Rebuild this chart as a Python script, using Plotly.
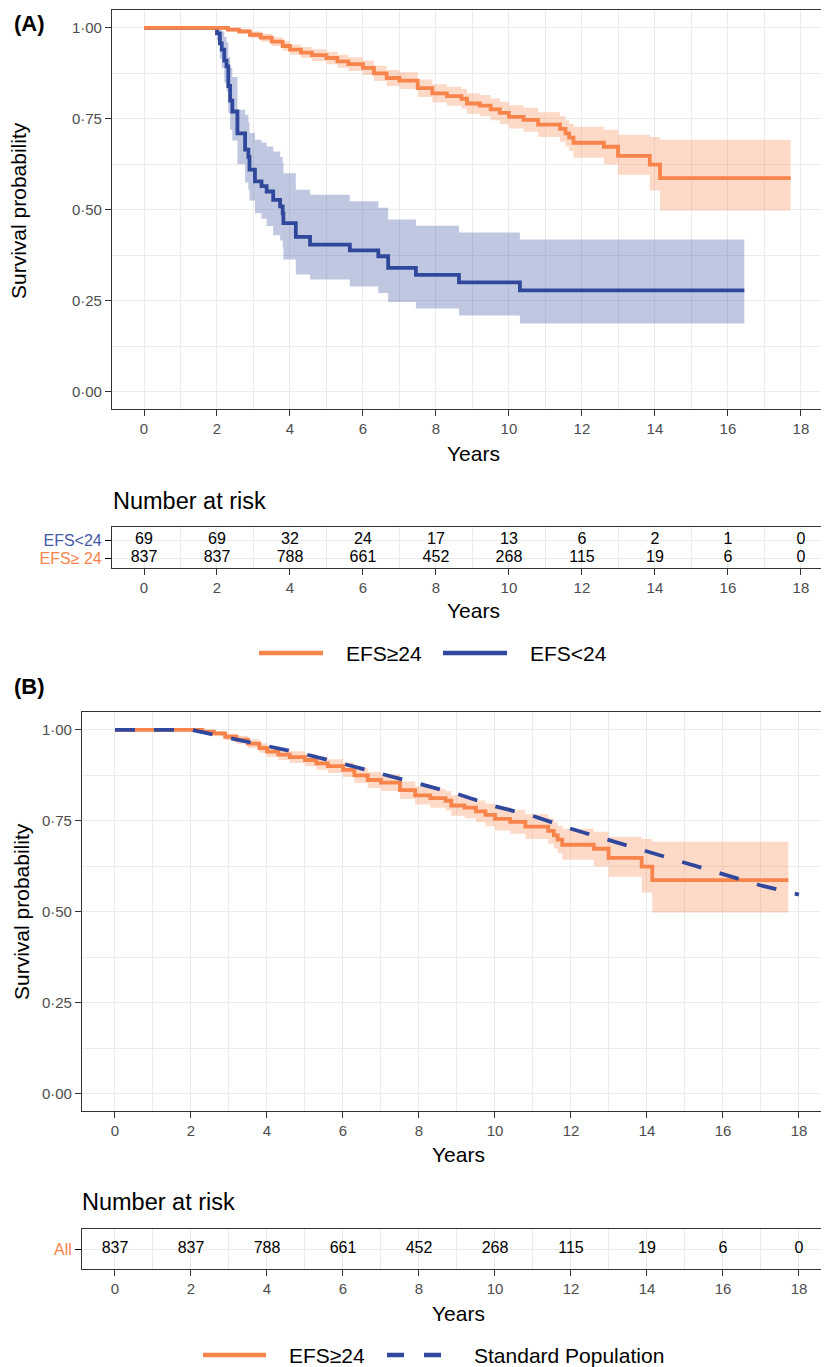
import plotly.graph_objects as go

W, H = 829, 1367
OX, OY = 8, 8  # default page body margin of the html page
FONT = "Liberation Sans, Arial, sans-serif"
ORANGE = "#F7844A"
BLUE = "#30489C"
ORANGE_FILL = "rgba(247,132,74,0.30)"
BLUE_FILL = "rgba(48,72,156,0.30)"

# ---------------- data ----------------
# EFS>=24 Kaplan-Meier estimate (time in years, survival, lower CI, upper CI)
ge24_t = [0, 2.0, 2.3, 2.6, 2.9, 3.2, 3.5, 3.8, 4.0, 4.3, 4.6, 5.0, 5.3, 5.6, 6.0, 6.3, 6.65,
          7.0, 7.5, 7.9, 8.3, 8.7, 8.85, 9.2, 9.5, 9.75, 10.0, 10.4, 10.8, 11.4, 11.55, 11.65,
          11.77, 12.6, 12.99, 13.86, 14.14, 17.72]
ge24_s = [1.0, 1.0, 0.995, 0.99, 0.981, 0.973, 0.962, 0.95, 0.94, 0.932, 0.925, 0.917, 0.908, 0.9,
          0.89, 0.875, 0.862, 0.855, 0.834, 0.82, 0.812, 0.805, 0.792, 0.786, 0.776, 0.766, 0.755,
          0.747, 0.734, 0.722, 0.71, 0.698, 0.684, 0.673, 0.648, 0.624, 0.587, 0.587]
ge24_lo = [1.0, 1.0, 0.99, 0.983, 0.972, 0.962, 0.95, 0.937, 0.926, 0.917, 0.909, 0.9, 0.89, 0.881,
           0.87, 0.854, 0.84, 0.832, 0.81, 0.795, 0.786, 0.778, 0.764, 0.757, 0.746, 0.735, 0.723,
           0.714, 0.70, 0.687, 0.674, 0.661, 0.643, 0.624, 0.596, 0.553, 0.498, 0.498]
ge24_hi = [1.0, 1.0, 1.0, 0.997, 0.99, 0.984, 0.974, 0.963, 0.954, 0.947, 0.941, 0.934, 0.926, 0.919,
           0.91, 0.896, 0.884, 0.878, 0.858, 0.845, 0.838, 0.832, 0.82, 0.815, 0.806, 0.797, 0.787,
           0.78, 0.768, 0.757, 0.746, 0.736, 0.728, 0.72, 0.706, 0.70, 0.692, 0.692]

# EFS<24 Kaplan-Meier estimate
lt24_t = [0, 2.0, 2.08, 2.13, 2.2, 2.26, 2.31, 2.36, 2.42, 2.56, 2.77, 2.86, 2.89, 3.04, 3.22, 3.36,
          3.54, 3.73, 3.80, 3.82, 4.16, 4.55, 5.64, 6.42, 6.69, 7.45, 8.63, 10.3, 16.45]
lt24_s = [1.0, 0.985, 0.957, 0.94, 0.91, 0.894, 0.84, 0.80, 0.77, 0.71, 0.665, 0.645, 0.61, 0.578,
          0.565, 0.55, 0.527, 0.509, 0.49, 0.463, 0.425, 0.404, 0.388, 0.372, 0.34, 0.321, 0.30,
          0.278, 0.278]
lt24_lo = [1.0, 0.965, 0.915, 0.89, 0.85, 0.825, 0.765, 0.72, 0.69, 0.625, 0.575, 0.555, 0.525, 0.49,
           0.475, 0.455, 0.43, 0.415, 0.395, 0.363, 0.322, 0.308, 0.289, 0.271, 0.246, 0.228, 0.209,
           0.187, 0.187]
lt24_hi = [1.0, 1.0, 1.0, 0.99, 0.975, 0.96, 0.92, 0.89, 0.865, 0.775, 0.761, 0.74, 0.711, 0.692,
           0.685, 0.674, 0.66, 0.645, 0.63, 0.60, 0.555, 0.541, 0.523, 0.505, 0.473, 0.456, 0.437,
           0.418, 0.418]

# Standard population expected survival
pop_t = [0, 2, 3, 4, 5, 6, 7, 8, 9, 10, 11, 12, 13, 14, 15, 16, 17, 18]
pop_s = [1.0, 1.0, 0.978, 0.955, 0.933, 0.907, 0.88, 0.851, 0.824, 0.79, 0.763, 0.728, 0.697,
         0.667, 0.636, 0.603, 0.572, 0.547]

# Numbers at risk
risk_times = [0, 2, 4, 6, 8, 10, 12, 14, 16, 18]
risk_lt24 = [69, 69, 32, 24, 17, 13, 6, 2, 1, 0]
risk_ge24 = [837, 837, 788, 661, 452, 268, 115, 19, 6, 0]
risk_all = [837, 837, 788, 661, 452, 268, 115, 19, 6, 0]

x_ticks = [0, 2, 4, 6, 8, 10, 12, 14, 16, 18]
y_ticks = [0, 0.25, 0.5, 0.75, 1.0]
y_ticklabels = ["0·00", "0·25", "0·50", "0·75", "1·00"]

legend_a = ["EFS≥24", "EFS<24"]
legend_b = ["EFS≥24", "Standard Population"]

FW, FH = W - OX, H - OY


def px(x):
    return (x - OX) / FW


def py(y):
    return 1 - (y - OY) / FH


fig = go.Figure()


def add_band(t, lo, hi, fill, xa, ya):
    fig.add_trace(go.Scatter(x=t, y=lo, mode="lines", line=dict(width=0, shape="hv"),
                             hoverinfo="skip", showlegend=False, xaxis=xa, yaxis=ya))
    fig.add_trace(go.Scatter(x=t, y=hi, mode="lines", line=dict(width=0, shape="hv"),
                             fill="tonexty", fillcolor=fill, hoverinfo="skip",
                             showlegend=False, xaxis=xa, yaxis=ya))


# Panel A
add_band(lt24_t, lt24_lo, lt24_hi, BLUE_FILL, "x", "y")
add_band(ge24_t, ge24_lo, ge24_hi, ORANGE_FILL, "x", "y")
fig.add_trace(go.Scatter(x=lt24_t, y=lt24_s, mode="lines", name="EFS<24",
                         line=dict(color=BLUE, width=3.8, shape="hv"), showlegend=False,
                         xaxis="x", yaxis="y"))
fig.add_trace(go.Scatter(x=ge24_t, y=ge24_s, mode="lines", name="EFS≥24",
                         line=dict(color=ORANGE, width=3.8, shape="hv"), showlegend=False,
                         xaxis="x", yaxis="y"))

# Risk table A
fig.add_trace(go.Scatter(x=risk_times, y=[2] * len(risk_times), mode="text",
                         text=[str(v) for v in risk_lt24], textfont=dict(size=16, color="black", family=FONT),
                         showlegend=False, hoverinfo="skip", xaxis="x2", yaxis="y2"))
fig.add_trace(go.Scatter(x=risk_times, y=[1] * len(risk_times), mode="text",
                         text=[str(v) for v in risk_ge24], textfont=dict(size=16, color="black", family=FONT),
                         showlegend=False, hoverinfo="skip", xaxis="x2", yaxis="y2"))

# Panel B
add_band(ge24_t, ge24_lo, ge24_hi, ORANGE_FILL, "x3", "y3")
fig.add_trace(go.Scatter(x=ge24_t, y=ge24_s, mode="lines", name="EFS≥24",
                         line=dict(color=ORANGE, width=3.8, shape="hv"), showlegend=False,
                         xaxis="x3", yaxis="y3"))
fig.add_trace(go.Scatter(x=pop_t, y=pop_s, mode="lines", name="Standard Population",
                         line=dict(color=BLUE, width=3.8, dash="20px,19px"),
                         showlegend=False, xaxis="x3", yaxis="y3"))

# Risk table B
fig.add_trace(go.Scatter(x=risk_times, y=[1] * len(risk_times), mode="text",
                         text=[str(v) for v in risk_all], textfont=dict(size=16, color="black", family=FONT),
                         showlegend=False, hoverinfo="skip", xaxis="x4", yaxis="y4"))

GRID = "#EBEBEB"
LINE = "#333333"


def xaxis_style(domain, rng, anchor):
    return dict(domain=domain, range=rng, anchor=anchor, tickmode="array", tickvals=x_ticks,
                ticks="outside", ticklen=6, tickwidth=1.1, tickcolor=LINE,
                tickfont=dict(size=15, color="#4D4D4D", family=FONT),
                showline=True, linecolor=LINE, linewidth=1.1, mirror=True,
                showgrid=True, gridcolor=GRID, gridwidth=1.2, zeroline=False,
                minor=dict(tickmode="linear", tick0=1, dtick=2, showgrid=True,
                           gridcolor=GRID, gridwidth=0.6, ticks=""))


def ymain_style(domain, anchor):
    return dict(domain=domain, range=[-0.048, 1.049], anchor=anchor, tickmode="array",
                tickvals=y_ticks, ticktext=y_ticklabels,
                ticks="outside", ticklen=6, tickwidth=1.1, tickcolor=LINE,
                tickfont=dict(size=15, color="#4D4D4D", family=FONT),
                showline=True, linecolor=LINE, linewidth=1.1, mirror=True,
                showgrid=True, gridcolor=GRID, gridwidth=1.2, zeroline=False,
                minor=dict(tickmode="linear", tick0=0.125, dtick=0.25, showgrid=True,
                           gridcolor=GRID, gridwidth=0.6, ticks=""))


def ytable_style(domain, anchor, rng, vals, labels):
    return dict(domain=domain, range=rng, anchor=anchor, tickmode="array",
                tickvals=vals, ticktext=labels,
                ticks="outside", ticklen=6, tickwidth=1.1, tickcolor="black",
                tickfont=dict(size=16, family=FONT),
                showline=True, linecolor=LINE, linewidth=1.1, mirror=True,
                showgrid=True, gridcolor=GRID, gridwidth=1.2, zeroline=False)


xA = [px(112), 1.0]
xB = [px(82), 1.0]
fig.update_layout(
    xaxis=xaxis_style(xA, [-0.877, 18.77], "y"),
    yaxis=ymain_style([py(409), py(10)], "x"),
    xaxis2=xaxis_style(xA, [-0.877, 18.77], "y2"),
    yaxis2=ytable_style([py(568.3), py(527.3)], "x2", [0.43, 2.71], [1, 2],
                        [f'<span style="color:{ORANGE}">EFS≥ 24</span>',
                         f'<span style="color:#4458A8">EFS&lt;24</span>']),
    xaxis3=xaxis_style(xB, [-0.868, 18.79], "y3"),
    yaxis3=ymain_style([py(1111), py(712)], "x3"),
    xaxis4=xaxis_style(xB, [-0.868, 18.79], "y4"),
    yaxis4=ytable_style([py(1269), py(1229)], "x4", [0.5, 1.5], [1],
                        [f'<span style="color:{ORANGE}">All</span>']),
)

ann = []


def text(x, y, s, size, xanchor="center", angle=0, bold=False):
    ann.append(dict(x=px(x), y=py(y), xref="paper", yref="paper", text=f"<b>{s}</b>" if bold else s,
                    showarrow=False, xanchor=xanchor, yanchor="middle", textangle=angle,
                    font=dict(size=size, color="black", family=FONT)))


text(12, 23, "(A)", 22, xanchor="left", bold=True)
text(12, 686, "(B)", 22, xanchor="left", bold=True)
text(19, 211, "Survival probability", 21, angle=-90)
text(21, 912, "Survival probability", 21, angle=-90)
text(473, 453, "Years", 21)
text(473, 610, "Years", 21)
text(458, 1154, "Years", 21)
text(458, 1313, "Years", 21)
text(111, 501, "Number at risk", 23.5, xanchor="left")
text(80, 1202, "Number at risk", 23.5, xanchor="left")

# legends (keys + labels)
shapes = []


def key(x0, x1, y, color, dash="solid"):
    shapes.append(dict(type="line", xref="paper", yref="paper", x0=px(x0), x1=px(x1), y0=py(y), y1=py(y),
                       line=dict(color=color, width=4.5, dash=dash)))


key(259, 323, 653, ORANGE)
text(344, 653, legend_a[0], 21, xanchor="left")
key(443, 507, 653, BLUE)
text(528, 653, legend_a[1], 21, xanchor="left")

key(203, 266, 1355, ORANGE)
text(287, 1355, legend_b[0], 21, xanchor="left")
key(387, 441, 1355, BLUE, dash="17px,20px")
text(472, 1355, legend_b[1], 21, xanchor="left")

fig.update_layout(
    width=FW, height=FH, margin=dict(l=0, r=0, t=0, b=0),
    paper_bgcolor="white", plot_bgcolor="white",
    font=dict(family=FONT, color="black"),
    annotations=ann, shapes=shapes, showlegend=False,
)

fig.write_html("out.html")
